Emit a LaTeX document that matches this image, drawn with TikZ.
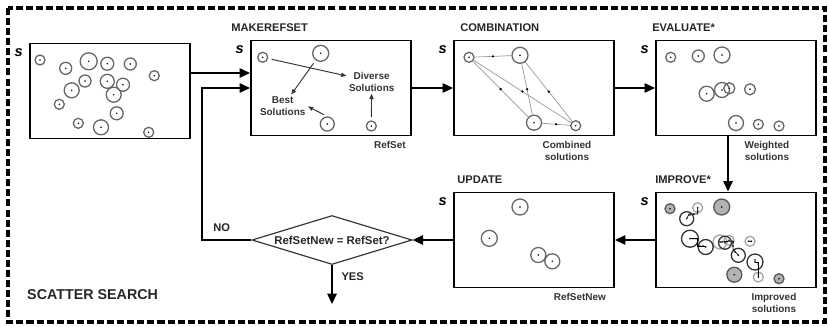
\documentclass[tikz,border=0pt]{standalone}
\usepackage{fontspec}
\setmainfont{Liberation Sans}
\usetikzlibrary{arrows.meta,shapes.geometric,positioning}

\begin{document}
\begin{tikzpicture}[x=0.03cm,y=-0.03cm,
    box/.style={draw, line width=1.6pt, minimum width=4.8cm, minimum height=2.85cm, inner sep=0pt},
    flow/.style={line width=1.6pt, -{Triangle[length=9pt,width=8pt]}},
    pick/.style={line width=0.8pt, draw=black!80, shorten <=3pt, -{Triangle[length=4.5pt,width=3.5pt]}},
    link/.style={line width=0.6pt, draw=black!40},
    walk/.style={line width=0.6pt, draw=black},
    title/.style={anchor=base west, inner sep=0pt, text=black!85, font=\fontsize{9.5}{11}\selectfont\bfseries},
    note/.style={anchor=north, inner sep=0pt, align=center, text=black!80, font=\fontsize{8.5}{10.2}\selectfont\bfseries},
    slab/.style={anchor=east, inner sep=0pt, font=\fontsize{12.5}{12}\selectfont\bfseries\itshape},
    sol/.style={circle, draw=black!60, line width=1.1pt, minimum size=#1*0.06cm, inner sep=0pt,
        path picture={\fill[black] (path picture bounding box.center) circle (0.7pt);}},
    seed/.style={fill=black!30, draw=black!65},
    faint/.style={draw=black!35},
    dark/.style={draw=black!80},
    dot/.style={circle, fill=black, inner sep=0pt, minimum size=2.2pt},
    mini/.style={circle, fill=black, inner sep=0pt, minimum size=1.6pt},
    test/.style={diamond, draw=black!80, line width=1pt, aspect=3.2, inner sep=0pt,
        minimum width=4.8cm, minimum height=1.47cm, text=black!85, font=\fontsize{9.7}{11}\selectfont\bfseries}]
    \useasboundingbox (0,0) rectangle (828,326);
    % frame
    \draw[line width=2.9pt, dash pattern=on 6pt off 2.6pt] (8,8) rectangle (825,322);
    \node[anchor=west, inner sep=0pt, text=black!85, font=\fontsize{12.2}{14}\selectfont\bfseries] (name) at (27,295) {SCATTER SEARCH};
    % define boxes
    \node[box] (init) at (110,91) {};
    \node[box] (mrs)  at (331,88) {};
    \node[box] (comb) at (534,88) {};
    \node[box] (eval) at (736,88) {};
    \node[box] (imp)  at (736,240) {};
    \node[box] (upd)  at (534,240) {};
    \node[test] (test) at (332,240) {RefSetNew = RefSet?};
    % s labels
    \foreach \b in {init,mrs,comb,eval,imp,upd}
        \node[slab] at ([xshift=-0.18cm,yshift=-0.3cm]\b.north west) {s};
    % titles
    \node[title] at ([xshift=-0.57cm,yshift=0.24cm]mrs.north west) {MAKEREFSET};
    \node[title] at ([xshift=0.21cm,yshift=0.24cm]comb.north west) {COMBINATION};
    \node[title] at ([xshift=-0.09cm,yshift=0.24cm]eval.north west) {EVALUATE*};
    \node[title] at ([yshift=0.24cm]imp.north west) {IMPROVE*};
    \node[title] at ([xshift=0.12cm,yshift=0.24cm]upd.north west) {UPDATE};
    % notes under boxes
    \node[note] at ([xshift=-0.66cm,yshift=-0.15cm]mrs.south east) {RefSet};
    \node[note] at ([xshift=-1.44cm,yshift=-0.15cm]comb.south east) {Combined\\solutions};
    \node[note] at ([xshift=-1.5cm,yshift=-0.15cm]eval.south east) {Weighted\\solutions};
    \node[note] at ([xshift=-1.29cm,yshift=-0.15cm]imp.south east) {Improved\\solutions};
    \node[note] at ([xshift=-1.05cm,yshift=-0.15cm]upd.south east) {RefSetNew};
    % initial set
    \foreach \x/\y/\r in {40/60/5, 65.7/68.3/6, 88.7/61.3/8.5, 107.3/63.7/6.5, 130.3/64/6,
        154.3/75.7/5, 85/81/6, 107.3/81.3/7, 123/84.7/6.5, 71.7/90.3/7.5, 113.7/94.7/7.5,
        59.3/104.3/5, 116.7/113.3/6.5, 78.3/123.3/5, 101/127.3/7.5, 148.7/132.3/5}
        \node[sol=\r] at (\x,\y) {};
    % makerefset
    \node[sol=5] (m1) at (262.7,57.3) {};
    \node[sol=8] (m2) at (320.7,53.3) {};
    \node[sol=7] (m3) at (327.3,124) {};
    \node[sol=5] (m4) at (371.3,126) {};
    \node[note, anchor=center, inner sep=2pt] (div) at (371.7,81.5) {Diverse\\Solutions};
    \node[note, anchor=center, inner sep=2pt] (best) at (282.7,106.5) {Best\\Solutions};
    \draw[pick] (m1) -- (div);
    \draw[pick] (m2) -- (best);
    \draw[pick] (m3.north) -- (best.east);
    \draw[pick] (m4) -- (div);
    % combination
    \node[sol=5] (c1) at (469,57.3) {};
    \node[sol=8] (c2) at (520,55.3) {};
    \node[sol=7.5] (c3) at (534,122.7) {};
    \node[sol=5] (c4) at (575.7,125.7) {};
    \foreach \a/\b in {c1/c2, c1/c3, c1/c4, c2/c3, c2/c4, c3/c4}
        \draw[link] (\a) -- node[dot] {} (\b);
    % evaluate
    \foreach \x/\y/\r in {670.7/57.3/5, 698.3/56/6, 722/55/8, 706.7/93.7/7.5, 722/90/7.5,
        729.3/88.3/5.5, 750/89.3/5.5, 736/123/7.5, 758.3/124.3/5, 779/126/5}
        \node[sol=\r] at (\x,\y) {};
    % improve
    \foreach \x/\y/\r in {670/208.7/5, 721.7/207/8, 734.3/274.7/7.5, 779/278.7/5}
        \node[sol=\r, seed] at (\x,\y) {};
    \foreach \x/\y/\r in {697.7/207.7/5, 720/242/7, 729/240.3/5, 750/241.3/5, 758.3/277/5}
        \node[sol=\r, faint] at (\x,\y) {};
    \foreach \x/\y/\r in {686.7/218.7/7, 690/238.7/8.5, 705.7/247/7.5, 725/242.7/6.5, 738.3/255.3/7, 755/262/8}
        \node[sol=\r, dark] at (\x,\y) {};
    \draw[walk] (697.7,208) -- (697.7,214) -- (689,214) -- (686.7,218.7);
    \draw[walk] (690,238.7) -- (697,238.7) -- (697,246) -- (705.7,246);
    \draw[walk] (720,242) -- (733,241) -- (733,249) -- (738.3,255.3);
    \draw[walk] (755,262) -- (758.3,262) -- (758.3,277);
    \foreach \x/\y in {697.7/211, 694/214, 690/215, 693/238.7, 696/238.7, 700/246, 703/246,
        722/242, 727/241.5, 733/242, 733/246, 735/252, 748.5/241.3, 751.5/241.3,
        755/260, 758.3/264, 758.3/269, 758.3/274}
        \node[mini] at (\x,\y) {};
    % update
    \foreach \x/\y/\r in {520/207/8, 489.3/238.3/8, 538.3/255/7.5, 552.3/261.3/7.5}
        \node[sol=\r] at (\x,\y) {};
    % connectors
    \coordinate (in1) at ([yshift=0.54cm]init.east);
    \coordinate (turn) at ([xshift=-1.44cm]mrs.west);
    \coordinate (exit) at ([yshift=-1.17cm]test.south);
    \draw[flow] (in1) -- (in1 -| mrs.west);
    \draw[flow] (mrs.east) -- (comb.west);
    \draw[flow] (comb.east) -- (eval.west);
    \draw[flow] ([xshift=-0.24cm]eval.south) -- ([xshift=-0.24cm]imp.north);
    \draw[flow] (imp.west) -- (upd.east);
    \draw[flow] (upd.west) -- (test.east);
    \draw[flow] (test.west) -| node[pos=0.3, above=3pt, text=black!85, font=\fontsize{9.5}{11}\selectfont\bfseries] {NO} (turn) -- (mrs.west);
    \draw[flow] (test.south) -- node[pos=0.3, right=4pt, text=black!85, font=\fontsize{9.5}{11}\selectfont\bfseries] {YES} (exit);
\end{tikzpicture}
\end{document}
